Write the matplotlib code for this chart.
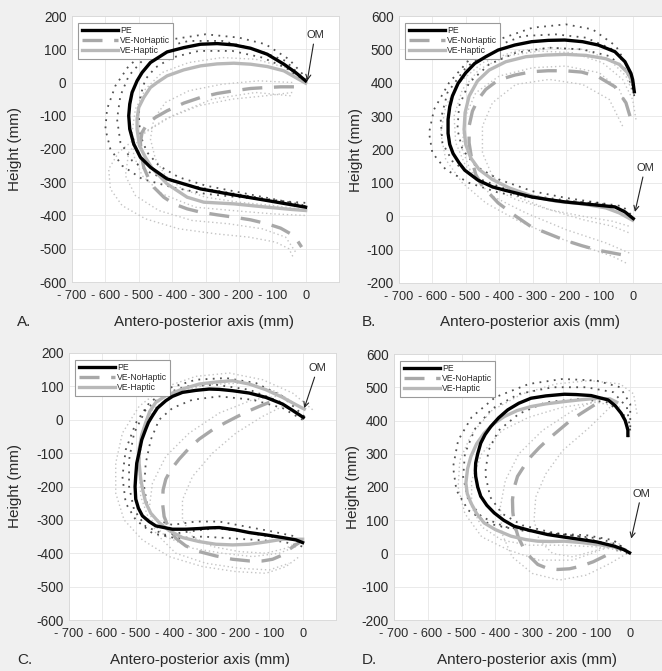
import matplotlib
matplotlib.use("Agg")
import matplotlib.pyplot as plt

plt.rcParams['font.family'] = ['Liberation Sans', 'DejaVu Sans']

# ---------------- data (mm) ----------------
XTICKS = [-700, -600, -500, -400, -300, -200, -100, 0]
XTICK_LABELS = ['- 700', '- 600', '- 500', '- 400', '- 300', '- 200', '- 100', '0']
YTICKS_AC = [200, 100, 0, -100, -200, -300, -400, -500, -600]
YTICKS_BD = [600, 500, 400, 300, 200, 100, 0, -100, -200]
LEGEND_LABELS = ['PE', 'VE-NoHaptic', 'VE-Haptic']
PANEL_LETTERS = ['A.', 'B.', 'C.', 'D.']

# Panel A mean curves
A_PE = [(0,5),(-30,30),(-65,55),(-115,85),(-165,103),(-215,113),(-265,117),(-315,115),(-365,105),
        (-415,92),(-465,60),(-490,30),(-505,5),(-520,-30),(-527,-65),(-530,-100),(-527,-140),
        (-515,-185),(-495,-225),(-465,-255),(-415,-290),(-315,-320),(-215,-338),(-115,-355),(-40,-368),(0,-375)]
A_HAP = [(0,-2),(-30,15),(-65,35),(-115,48),(-165,55),(-215,58),(-265,56),(-315,50),(-365,38),(-415,20),
         (-445,0),(-465,-15),(-485,-45),(-500,-75),(-505,-110),(-505,-140),(-498,-190),(-480,-225),
         (-460,-258),(-415,-305),(-355,-345),(-305,-360),(-215,-365),(-115,-375),(-40,-382),(0,-385)]
A_NOH = [(-35,-13),(-75,-13),(-115,-15),(-165,-18),(-215,-25),(-265,-33),(-315,-45),(-365,-62),(-415,-85),
         (-450,-105),(-475,-125),(-490,-150),(-495,-180),(-492,-220),(-485,-255),(-470,-290),(-455,-315),
         (-425,-345),(-395,-365),(-355,-380),(-315,-390),(-265,-398),(-215,-405),(-165,-413),(-115,-425),
         (-75,-438),(-45,-455),(-25,-475),(-12,-495)]
# Panel A individual trials
A_PE_TRIALS = [
    [(5,10),(-50,70),(-120,115),(-200,135),(-300,145),(-400,130),(-470,100),(-530,50),(-570,-10),(-595,-80),
     (-600,-140),(-585,-200),(-550,-250),(-490,-290),(-400,-315),(-300,-335),(-200,-345),(-100,-355),(0,-362)],
    [(0,0),(-60,45),(-130,75),(-220,95),(-320,95),(-400,75),(-450,45),(-480,10),(-495,-40),(-500,-100),
     (-495,-160),(-475,-210),(-440,-250),(-380,-285),(-300,-310),(-200,-330),(-100,-350),(0,-370)],
    [(0,5),(-60,65),(-150,100),(-250,125),(-350,125),(-430,105),(-490,65),(-530,20),(-555,-40),(-565,-110),
     (-555,-180),(-520,-235),(-460,-275),(-370,-305),(-270,-325),(-150,-345),(-50,-360),(0,-372)],
]
A_VE_TRIALS = [
    [(-40,-30),(-120,-40),(-220,-50),(-320,-70),(-420,-110),(-500,-160),(-560,-210),(-590,-260),(-585,-320),
     (-550,-370),(-480,-410),(-380,-440),(-270,-455),(-170,-465),(-90,-480),(-50,-500),(-35,-530)],
    [(0,0),(-60,45),(-150,70),(-250,75),(-350,60),(-430,30),(-480,-20),(-510,-80),(-520,-150),(-515,-220),
     (-490,-280),(-430,-335),(-330,-375),(-220,-385),(-100,-395),(0,-400)],
    [(-40,0),(-140,5),(-250,-5),(-350,-25),(-420,-60),(-455,-110),(-465,-170),(-450,-230),(-420,-280),
     (-370,-320),(-300,-345),(-200,-360),(-100,-370),(-20,-380)],
    [(-45,-40),(-150,-30),(-280,-50),(-400,-100),(-480,-150),(-530,-210),(-540,-280),(-510,-340),(-440,-385),
     (-340,-415),(-230,-425),(-130,-440),(-60,-465),(-30,-510)],
]

# Panel B mean curves
B_PE = [(5,373),(0,410),(-5,428),(-23,463),(-53,493),(-103,513),(-150,523),(-203,528),(-253,527),(-303,523),
        (-353,513),(-403,498),(-440,478),(-473,458),(-500,430),(-523,398),(-540,360),(-548,328),(-553,290),
        (-553,248),(-548,215),(-538,188),(-520,160),(-503,138),(-463,108),(-420,88),(-383,78),(-303,58),
        (-253,50),(-203,43),(-153,38),(-103,33),(-53,28),(-23,13),(2,-7)]
B_HAP = [(0,400),(-15,430),(-40,455),(-80,472),(-140,482),(-200,485),(-260,483),(-320,478),(-380,463),
         (-430,438),(-465,405),(-490,360),(-502,310),(-505,260),(-500,215),(-485,175),(-460,140),(-420,110),
         (-370,85),(-300,60),(-230,45),(-150,37),(-80,25),(-40,10),(0,-12)]
B_NOH = [(-8,300),(-20,340),(-53,388),(-103,418),(-153,432),(-203,436),(-253,436),(-303,433),(-353,423),
         (-403,408),(-440,380),(-463,350),(-480,315),(-490,270),(-490,220),(-482,170),(-470,125),(-450,90),
         (-403,40),(-350,0),(-303,-32),(-253,-52),(-203,-72),(-153,-88),(-103,-102),(-60,-110),(-23,-117)]
B_PE_TRIALS = [
    [(5,360),(-10,440),(-50,510),(-120,560),(-200,575),(-300,565),(-400,530),(-480,480),(-550,400),(-595,320),
     (-610,250),(-600,190),(-560,140),(-490,100),(-400,70),(-300,55),(-200,45),(-100,40),(-30,30),(5,-5)],
    [(0,380),(-20,440),(-70,480),(-150,500),(-250,505),(-350,490),(-430,455),(-490,400),(-520,330),(-525,260),
     (-510,200),(-470,150),(-400,110),(-300,75),(-200,55),(-100,40),(-30,20),(0,-10)],
    [(5,370),(-15,450),(-60,500),(-140,535),(-230,545),(-330,540),(-420,505),(-500,445),(-555,370),(-575,290),
     (-570,220),(-540,165),(-480,120),(-390,85),(-290,60),(-180,45),(-80,35),(-20,15)],
]
B_VE_TRIALS = [
    [(-20,-140),(-60,-120),(-150,-90),(-250,-55),(-350,-10),(-440,40),(-510,100),(-560,170),(-575,250),
     (-560,330),(-520,400),(-450,460),(-350,495),(-250,505),(-150,500),(-70,470),(-20,420),(0,370)],
    [(-30,270),(-70,350),(-150,395),(-250,410),(-350,395),(-420,340),(-450,270),(-450,190),(-420,120),
     (-350,60),(-250,20),(-150,-10),(-60,-30),(-10,-50)],
    [(10,290),(0,350),(-30,410),(-90,460),(-180,490),(-280,495),(-380,480),(-460,440),(-510,380),(-535,300),
     (-530,220),(-500,150),(-440,95),(-350,50),(-250,20),(-150,0),(-60,-15),(-10,-30)],
    [(-10,-110),(-80,-80),(-200,-40),(-320,10),(-420,60),(-480,120),(-510,200),(-505,290),(-470,370),
     (-400,420),(-300,445),(-200,450),(-100,430),(-40,380),(-15,320)],
]

# Panel C mean curves
C_PE = [(2,7),(-30,28),(-60,47),(-110,67),(-160,80),(-210,87),(-250,91),(-280,92),(-320,88),(-360,82),
        (-390,70),(-410,57),(-435,35),(-450,12),(-462,-8),(-470,-28),(-482,-60),(-490,-98),(-497,-130),
        (-500,-168),(-502,-200),(-500,-238),(-492,-265),(-480,-288),(-460,-305),(-440,-318),(-390,-328),
        (-350,-328),(-310,-326),(-280,-324),(-250,-323),(-200,-330),(-160,-338),(-110,-345),(-60,-353),
        (-20,-360),(0,-368)]
C_HAP = [(5,32),(-20,45),(-60,67),(-110,90),(-160,107),(-210,117),(-260,113),(-310,107),(-360,92),(-410,72),
         (-440,52),(-458,25),(-470,-8),(-482,-45),(-490,-88),(-490,-130),(-485,-178),(-478,-215),(-470,-248),
         (-455,-280),(-430,-308),(-400,-332),(-360,-353),(-310,-365),(-260,-373),(-210,-375),(-160,-373),
         (-110,-366),(-60,-358),(0,-358)]
C_NOH = [(-100,52),(-130,40),(-160,27),(-195,10),(-230,-8),(-270,-30),(-310,-58),(-340,-85),(-370,-118),
         (-395,-150),(-410,-178),(-418,-210),(-420,-248),(-415,-290),(-400,-328),(-380,-355),(-350,-378),
         (-310,-395),(-260,-408),(-210,-418),(-160,-423),(-120,-423),(-90,-418),(-60,-405),(-40,-388),(-10,-368)]
C_PE_TRIALS = [
    [(5,10),(-60,70),(-140,110),(-230,125),(-320,120),(-400,95),(-460,50),(-500,-10),(-530,-90),(-540,-170),
     (-530,-250),(-500,-300),(-450,-340),(-380,-355),(-300,-350),(-220,-355),(-140,-360),(-60,-365),(0,-380)],
    [(0,0),(-60,35),(-150,60),(-250,70),(-330,60),(-390,35),(-430,0),(-455,-60),(-470,-130),(-475,-200),
     (-465,-260),(-440,-300),(-390,-315),(-320,-305),(-250,-305),(-170,-320),(-90,-335),(-20,-350)],
    [(5,5),(-70,55),(-160,90),(-260,105),(-350,100),(-420,75),(-470,30),(-505,-40),(-520,-120),(-520,-200),
     (-505,-270),(-470,-320),(-410,-345),(-340,-335),(-260,-325),(-180,-335),(-100,-350),(-20,-360)],
]
C_VE_TRIALS = [
    [(30,30),(-30,80),(-120,120),(-220,140),(-320,130),(-420,95),(-490,40),(-540,-40),(-560,-130),(-560,-220),
     (-535,-300),(-480,-360),(-400,-410),(-300,-440),(-200,-455),(-110,-460),(-50,-440),(-10,-410)],
    [(-60,40),(-120,10),(-200,-40),(-270,-100),(-330,-170),(-360,-240),(-360,-300),(-330,-350),(-270,-380),
     (-190,-395),(-110,-400),(-50,-385),(0,-360)],
    [(-10,40),(-80,85),(-180,110),(-290,105),(-390,75),(-450,30),(-480,-50),(-490,-140),(-485,-230),
     (-460,-300),(-410,-350),(-330,-385),(-240,-400),(-150,-410),(-70,-400),(-20,-380)],
    [(-80,70),(-150,60),(-250,20),(-340,-40),(-410,-110),(-450,-190),(-460,-270),(-440,-340),(-380,-400),
     (-290,-430),(-190,-445),(-100,-450),(-40,-430)],
]

# Panel D mean curves
D_PE = [(-7,355),(-7,372),(-15,400),(-27,422),(-45,445),(-66,462),(-116,475),(-160,478),(-195,479),(-250,474),
        (-294,467),(-330,452),(-363,432),(-390,408),(-413,382),(-430,358),(-443,332),(-452,300),(-458,272),
        (-459,250),(-458,232),(-452,200),(-443,172),(-425,145),(-403,122),(-375,100),(-344,82),(-300,70),
        (-245,57),(-200,50),(-146,42),(-100,35),(-47,22),(-20,12),(-2,2)]
D_HAP = [(-40,455),(-60,465),(-96,467),(-150,462),(-195,457),(-250,450),(-294,442),(-335,430),(-373,412),
         (-405,390),(-433,362),(-455,330),(-472,292),(-482,255),(-487,212),(-483,180),(-472,152),(-455,120),
         (-433,92),(-400,72),(-353,52),(-310,42),(-274,37),(-235,36),(-195,37),(-146,33),(-96,27),(-50,20),(-17,12)]
D_NOH = [(-106,447),(-140,425),(-175,402),(-210,372),(-245,342),(-270,318),(-294,292),(-315,262),(-334,232),
         (-344,198),(-349,162),(-348,125),(-344,92),(-332,50),(-314,12),(-295,-12),(-274,-33),(-245,-45),
         (-215,-48),(-180,-46),(-146,-38),(-110,-25),(-76,-8),(-55,3),(-37,12)]
D_PE_TRIALS = [
    [(0,380),(0,450),(-30,500),(-100,520),(-200,525),(-300,510),(-400,470),(-470,410),(-510,340),(-525,260),
     (-515,190),(-480,130),(-420,90),(-330,70),(-230,60),(-130,55),(-50,40),(0,0)],
    [(-5,350),(-20,420),(-70,455),(-150,465),(-250,455),(-330,420),(-390,370),(-420,310),(-430,240),(-415,170),
     (-380,120),(-320,85),(-240,65),(-150,50),(-70,30),(-10,0)],
    [(0,370),(-10,440),(-50,485),(-130,500),(-230,500),(-330,480),(-410,435),(-460,375),(-490,300),(-495,230),
     (-480,160),(-440,110),(-370,80),(-280,65),(-180,55),(-90,45),(-20,20)],
]
D_VE_TRIALS = [
    [(20,420),(10,480),(-30,510),(-120,520),(-220,510),(-320,480),(-410,430),(-470,360),(-505,280),(-510,200),
     (-490,120),(-440,50),(-360,10),(-270,-20),(-170,-20),(-90,10),(-30,30)],
    [(-60,440),(-120,380),(-200,310),(-250,240),(-280,170),(-285,100),(-270,40),(-230,0),(-170,-10),
     (-100,10),(-40,40)],
    [(-80,470),(-170,430),(-260,370),(-330,300),(-370,220),(-385,140),(-380,60),(-350,-10),(-290,-60),
     (-210,-80),(-130,-65),(-60,-30),(-10,0)],
    [(-30,440),(-100,455),(-200,440),(-300,410),(-380,370),(-440,300),(-470,220),(-470,140),(-440,80),
     (-380,40),(-300,25),(-200,25),(-100,20),(-30,10)],
]

# OM annotation: (text position, arrow tip)
OM_POS = [((28, 128), (5, 5)), ((37, 130), (7, 13)), ((45, 140), (5, 35)), ((33, 165), (3, 45))]

# ---------------- figure ----------------
W, H = 662, 671
fig = plt.figure(figsize=(W / 100, H / 100), dpi=100, facecolor='#f0f0f0')

def px_rect(left, top, right, bottom):
    return [left / W, 1 - bottom / H, (right - left) / W, (bottom - top) / H]

panels = [
    dict(rect=px_rect(72, 16, 339, 282), ylim=(-600, 200), yticks=YTICKS_AC,
         pe=A_PE, hap=A_HAP, noh=A_NOH, pet=A_PE_TRIALS, vet=A_VE_TRIALS,
         ylab_x=15, xlab_y=322, letter_x=17),
    dict(rect=px_rect(399, 16, 666, 283), ylim=(-200, 600), yticks=YTICKS_BD,
         pe=B_PE, hap=B_HAP, noh=B_NOH, pet=B_PE_TRIALS, vet=B_VE_TRIALS,
         ylab_x=356, xlab_y=322, letter_x=362),
    dict(rect=px_rect(69, 353, 336, 620), ylim=(-600, 200), yticks=YTICKS_AC,
         pe=C_PE, hap=C_HAP, noh=C_NOH, pet=C_PE_TRIALS, vet=C_VE_TRIALS,
         ylab_x=15, xlab_y=660, letter_x=17),
    dict(rect=px_rect(394, 354, 664, 620), ylim=(-200, 600), yticks=YTICKS_BD,
         pe=D_PE, hap=D_HAP, noh=D_NOH, pet=D_PE_TRIALS, vet=D_VE_TRIALS,
         ylab_x=353, xlab_y=660, letter_x=362),
]

TXT = '#2a2a2a'

def xy(pts):
    return [p[0] for p in pts], [p[1] for p in pts]

for i, p in enumerate(panels):
    ax = fig.add_axes(p['rect'])
    ax.set_facecolor('white')
    ax.set_xlim(-700, 100)
    ax.set_ylim(*p['ylim'])
    ax.set_xticks(XTICKS)
    ax.set_xticklabels(XTICK_LABELS)
    ax.set_yticks(p['yticks'])
    ax.set_yticklabels([str(v) for v in p['yticks']])
    ax.tick_params(length=0, colors=TXT)
    ax.tick_params(axis='x', pad=6, labelsize=9.2)
    ax.tick_params(axis='y', pad=4, labelsize=9.8)
    ax.grid(True, color='#e6e6e6', lw=0.6)
    ax.set_axisbelow(True)
    for s in ax.spines.values():
        s.set_color('#d8d8d8')
        s.set_linewidth(0.6)

    for t in p['vet']:
        x, y = xy(t)
        ax.plot(x, y, color='#c4c4c4', lw=1.0, ls=(0, (1, 2)), zorder=2)
    for t in p['pet']:
        x, y = xy(t)
        ax.plot(x, y, color='#1a1a1a', lw=1.3, ls=(0, (1, 3)), alpha=0.75, zorder=3)

    x, y = xy(p['noh'])
    l_noh, = ax.plot(x, y, color='#a8a8a8', lw=2.4, ls=(0, (6, 3.5)), zorder=4)
    x, y = xy(p['hap'])
    l_hap, = ax.plot(x, y, color='#b8b8b8', lw=2.4, zorder=5, solid_joinstyle='round')
    x, y = xy(p['pe'])
    l_pe, = ax.plot(x, y, color='black', lw=2.4, zorder=6, solid_joinstyle='round')

    leg = ax.legend([l_pe, l_noh, l_hap], LEGEND_LABELS, loc='upper left',
                    bbox_to_anchor=(0.008, 0.99), fontsize=6.2, handlelength=4.2,
                    handletextpad=0.2, labelspacing=0.12, borderpad=0.4,
                    fancybox=False, framealpha=1, edgecolor='#9a9a9a')
    leg.get_frame().set_linewidth(0.8)
    for t in leg.get_texts():
        t.set_color(TXT)

    (tx, ty), tip = OM_POS[i]
    ax.annotate('OM', xy=tip, xytext=(tx, ty), fontsize=8, color=TXT,
                ha='center', va='bottom', zorder=8,
                arrowprops=dict(arrowstyle='->', lw=0.8, color='#222222',
                                shrinkA=1, shrinkB=0, mutation_scale=9))

    left_px = p['rect'][0] * W
    right_px = left_px + p['rect'][2] * W
    cy = (1 - (p['rect'][1] + p['rect'][3] / 2)) * H
    fig.text(p['ylab_x'] / W, 1 - cy / H, 'Height (mm)', rotation=90, ha='center',
             va='center', fontsize=11, color=TXT)
    fig.text((left_px + right_px) / 2 / W - 2 / W, 1 - p['xlab_y'] / H, 'Antero-posterior axis (mm)',
             ha='center', va='center', fontsize=11, color=TXT)
    fig.text(p['letter_x'] / W, 1 - p['xlab_y'] / H, PANEL_LETTERS[i], ha='left',
             va='center', fontsize=11, color=TXT)

fig.savefig('out.png', dpi=100, facecolor=fig.get_facecolor())
